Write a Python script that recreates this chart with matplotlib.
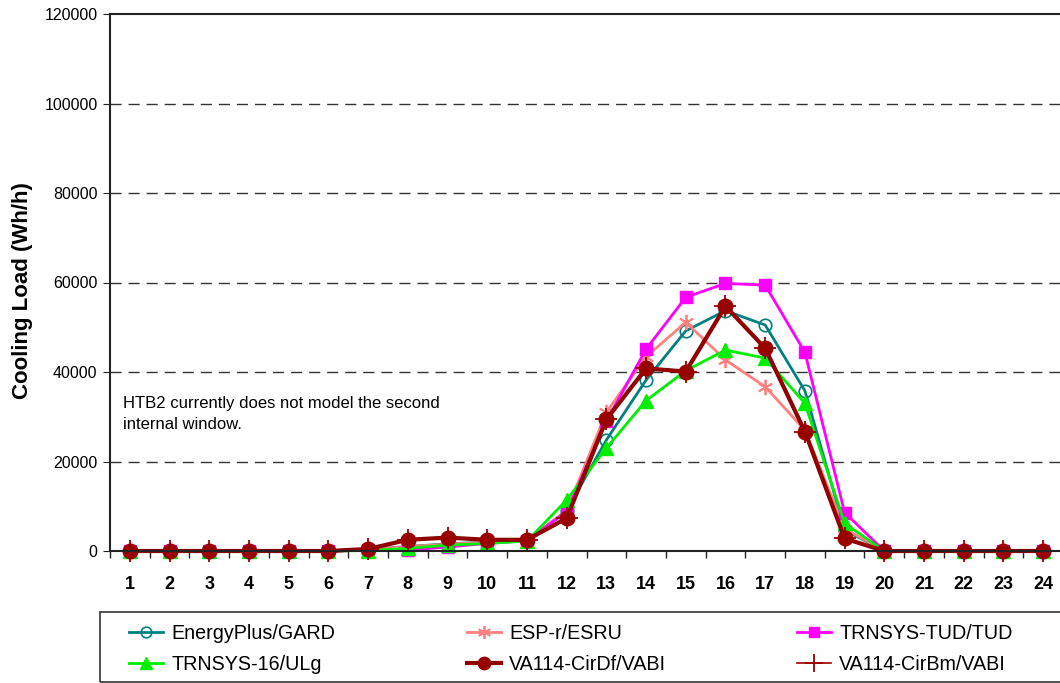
import matplotlib
matplotlib.use("Agg")
import matplotlib.pyplot as plt
from matplotlib.patches import Rectangle

plt.rcParams['font.family'] = ['Liberation Sans', 'DejaVu Sans']

hours = list(range(1, 25))
hour_labels = [str(h) for h in hours]

energyplus = [0, 0, 0, 0, 0, 0, 300, 1000, 1600, 2000, 2300, 9000,
              24800, 38200, 49200, 53700, 50500, 35800, 4700, 0, 0, 0, 0, 0]
esp_r = [0, 0, 0, 0, 0, 0, 300, 1000, 1500, 2000, 2400, 9000,
         31000, 43400, 51100, 42700, 36700, 27000, 5000, 0, 0, 0, 0, 0]
trnsys_tud = [0, 0, 0, 0, 0, 0, 200, 200, 900, 1700, 2300, 8800,
              29000, 45100, 56700, 59800, 59400, 44400, 8600, 0, 0, 0, 0, 0]
trnsys_16 = [0, 0, 0, 0, 0, 0, 100, 600, 1300, 1700, 2200, 11400,
             23000, 33600, 40300, 44900, 43100, 33000, 6200, 0, 0, 0, 0, 0]
va114_cirdf = [0, 0, 0, 0, 0, 0, 450, 2500, 3000, 2500, 2500, 7300,
               29400, 40800, 40100, 54700, 45300, 26700, 2800, 0, 0, 0, 0, 0]
va114_cirbm = [0, 0, 0, 0, 0, 0, 450, 2500, 3000, 2500, 2500, 7300,
               29400, 40800, 40100, 54700, 45300, 26700, 2800, 0, 0, 0, 0, 0]

series_names = ["EnergyPlus/GARD", "ESP-r/ESRU", "TRNSYS-TUD/TUD",
                "TRNSYS-16/ULg", "VA114-CirDf/VABI", "VA114-CirBm/VABI"]

W, H = 1060, 683
fig = plt.figure(figsize=(W / 100, H / 100), dpi=100)
ax = fig.add_axes([110 / W, 1 - 551 / H, (1063 - 110) / W, (551 - 14) / H])

styles = [
    dict(color='#008080', lw=2.0, marker='o', ms=9, mfc='none', mec='#008080', mew=1.2),
    dict(color='#FF8080', lw=2.0, marker=(6, 2, 0), ms=11, mec='#FF8080', mew=1.3),
    dict(color='#FF00FF', lw=2.0, marker='s', ms=9, mfc='#FF00FF', mec='#FF00FF'),
    dict(color='#00EE00', lw=2.0, marker='^', ms=10, mfc='#00EE00', mec='#00EE00'),
    dict(color='#8B0000', lw=3.0, marker='o', ms=10.5, mfc='#990000', mec='#990000'),
    dict(color='#990000', lw=1.2, marker='+', ms=16, mec='#990000', mew=1.3),
]
data = [energyplus, esp_r, trnsys_tud, trnsys_16, va114_cirdf, va114_cirbm]

handles = []
for vals, name, st in zip(data, series_names, styles):
    ln, = ax.plot(hours, vals, label=name, clip_on=False, **st)
    handles.append(ln)

ax.set_xlim(0.5, 24.5)
ax.set_ylim(0, 120000)
ax.set_yticks(range(0, 120001, 20000))
ax.set_xticks(hours)
ax.set_xticklabels(hour_labels, fontsize=13, fontweight='bold')
ax.set_xticks([h + 0.5 for h in range(0, 25)], minor=True)
ax.tick_params(axis='x', which='major', length=0, pad=18)
ax.tick_params(axis='x', which='minor', length=5, direction='out', width=1, color='#222')
ax.tick_params(axis='y', which='major', length=5, direction='out', labelsize=11.5, pad=4, color='#222')

for y in range(20000, 120000, 20000):
    ax.axhline(y, color='#333333', lw=1.0, ls=(0, (8, 5)), zorder=0)

for s in ['left', 'bottom', 'top', 'right']:
    ax.spines[s].set_color('#222222')
    ax.spines[s].set_linewidth(1.5)

ax.set_ylabel("Cooling Load (Wh/h)", fontsize=16, fontweight='bold')
ax.yaxis.set_label_coords((33 - 110) / 953, (551 - 291) / 537)

ax.text(0.83, 34600, "HTB2 currently does not model the second\ninternal window.",
        fontsize=12, va='top', ha='left', linespacing=1.45)

# legend box
fig.add_artist(Rectangle((100 / W, 1 - 682 / H), (1070 - 100) / W, (682 - 612) / H,
                         transform=fig.transFigure, fill=False, edgecolor='#333333', lw=1.2))

col_x = [115, 453, 783]
for i, cx in enumerate(col_x):
    hs = [handles[i], handles[i + 3]]
    fig.legend(hs, [h.get_label() for h in hs], loc='upper left',
               bbox_to_anchor=(cx / W, 1 - 610 / H), frameon=False,
               fontsize=14.2, handlelength=1.75, handletextpad=0.4,
               labelspacing=0.62, borderpad=0.2, markerscale=0.85)

fig.savefig("out.png", dpi=100)
